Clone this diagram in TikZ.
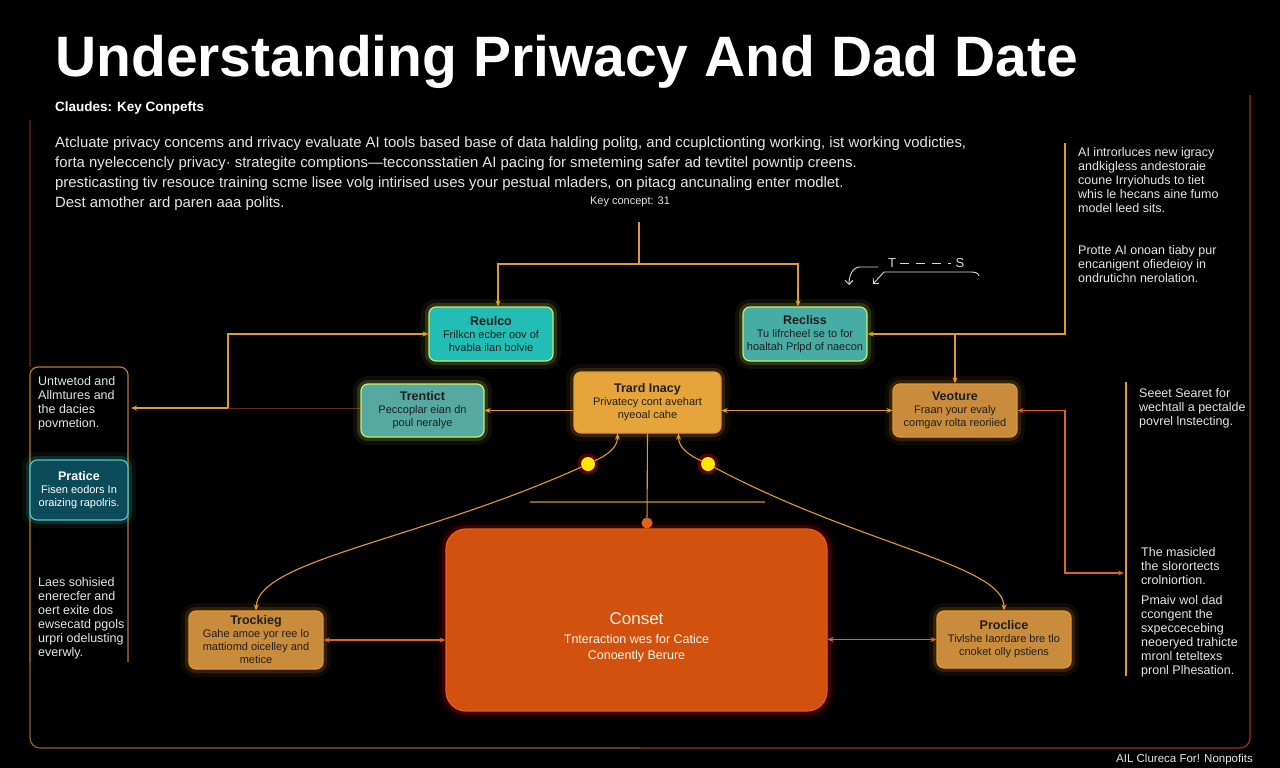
\documentclass[tikz,border=0pt]{standalone}
\usepackage{fontspec}
\setmainfont{Liberation Sans}
\usetikzlibrary{arrows.meta}
\definecolor{amber}{HTML}{E39A2C}
\definecolor{rust}{HTML}{E2621C}
\definecolor{paper}{HTML}{E6E6E6}
\definecolor{teala}{HTML}{22BDB4}
\definecolor{tealb}{HTML}{46ACA4}
\definecolor{tealc}{HTML}{55A9A1}
\definecolor{tealdeep}{HTML}{0C4B5A}
\definecolor{lime}{HTML}{C9EE6A}
\definecolor{gold}{HTML}{E6A53A}
\definecolor{ochre}{HTML}{C98B3C}
\definecolor{flame}{HTML}{D2510F}
\definecolor{framered}{HTML}{A82C22}
\definecolor{framedim}{HTML}{4A1A10}
\newcommand\boxhead[1]{{\fontsize{12.5}{15}\selectfont\bfseries #1}}
\begin{document}
\begin{tikzpicture}[x=1pt,y=-1pt,
  wire/.style={draw=amber, line width=1.1pt},
  arr/.style={wire, -{Stealth[length=6pt,width=5pt]}},
  arrs/.style={wire, {Stealth[length=6pt,width=5pt]}-{Stealth[length=6pt,width=5pt]}},
  box/.style={draw=#1, line width=1.2pt, rounded corners=7pt, align=center, inner sep=1pt,
    text=black!88, font=\fontsize{11}{13}\selectfont,
    preaction={draw=#1, line width=16pt, opacity=0.07},
    preaction={draw=#1, line width=8pt, opacity=0.16}},
  coltxt/.style={anchor=north west, align=left, inner sep=0pt, text=#1, font=\fontsize{12.5}{14}\selectfont},
  ydot/.style={circle, fill=yellow!90!orange, inner sep=0pt, minimum size=14pt,
    preaction={draw=red, line width=7pt, opacity=0.35}},
  rdot/.style={circle, fill=rust, inner sep=0pt, minimum size=11pt},
  anno/.style={draw=white!85!black, line width=0.9pt}]
\useasboundingbox (0,0) rectangle (1280,768);
\fill[black] (0,0) rectangle (1280,768);

\node[anchor=base west, inner sep=0pt, text=white, font=\fontsize{57}{60}\selectfont\bfseries] (ttl) at (55,77) {Understanding Priwacy And Dad Date};
\node[anchor=base west, inner sep=0pt, text=white, font=\fontsize{13.5}{16}\selectfont\bfseries] (sub) at (55,111) {Claudes: Key Conpefts};
\node[coltxt=paper, font=\fontsize{14.9}{20}\selectfont] (par) at (55,137) {Atcluate privacy concems and rrivacy evaluate AI tools based base of data halding politg, and ccuplctionting working, ist working vodicties,\\
forta nyeleccencly privacy· strategite comptions—tecconsstatien AI pacing for smeteming safer ad tevtitel powntip creens.\\
presticasting tiv resouce training scme lisee volg intirised uses your pestual mladers, on pitacg ancunaling enter modlet.\\
Dest amother ard paren aaa polits.};
\node[inner sep=1pt, text=paper, font=\fontsize{11}{13}\selectfont] (kc) at (630,202) {Key concept: 31};

\draw[line width=1.2pt, draw=framedim] (30,120) -- (30,367);
\draw[line width=1.2pt, draw=amber!80!black, rounded corners=8pt] (30,662) -- (30,367) -- (128,367) -- (128,662);
\draw[line width=1.2pt, draw=ochre!70!black, rounded corners=10pt] (30,662) -- (30,748) -- (640,748);
\draw[line width=1.2pt, draw=framered, rounded corners=10pt] (640,748) -- (1250,748) -- (1250,95);
\draw[wire] (1126,382) -- (1126,676);

\node[coltxt=paper] (lt1) at (38,376) {Untwetod and\\Allmtures and\\the dacies\\povmetion.};
\node[coltxt=paper] (lt2) at (38,577) {Laes sohisied\\enerecfer and\\oert exite dos\\ewsecatd pgols\\urpri odelusting\\everwly.};
\node[coltxt=paper] (rt1) at (1078,147) {AI introrluces new igracy\\andkigless andestoraie\\coune Irryiohuds to tiet\\whis le hecans aine fumo\\model leed sits.};
\node[coltxt=paper] (rt2) at (1078,245) {Protte AI onoan tiaby pur\\encanigent ofiedeioy in\\ondrutichn nerolation.};
\node[coltxt=paper] (rt3) at (1139,388) {Seeet Searet for\\wechtall a pectalde\\povrel lnstecting.};
\node[coltxt=paper] (rt4) at (1141,547) {The masicled\\the slorortects\\crolniortion.};
\node[coltxt=paper] (rt5) at (1141,595) {Pmaiv wol dad\\ccongent the\\sxpeccecebing\\neoeryed trahicte\\mronl teteltexs\\pronl Plhesation.};
\node[anchor=base east, inner sep=0pt, text=paper, font=\fontsize{11.5}{14}\selectfont] (ftr) at (1253,762) {AIL Clureca For! Nonpofits};

\node[box=lime, fill=teala, minimum width=124pt, minimum height=54pt] (box1) at (491,334) {\boxhead{Reulco}\\Frilkcn ecber oov of\\hvabla ilan bolvie};
\node[box=lime, fill=tealb, minimum width=124pt, minimum height=54pt] (box2) at (805,334) {\boxhead{Recliss}\\Tu lifrcheel se to for\\hoaltah Prlpd of naecon};
\node[box=lime, fill=tealc, minimum width=123pt, minimum height=53pt] (box3) at (422.5,410.5) {\boxhead{Trentict}\\Peccoplar eian dn\\poul neralye};
\node[box=amber, fill=gold, minimum width=147pt, minimum height=61pt] (box4) at (647.5,402.5) {\boxhead{Trard Inacy}\\Privatecy cont avehart\\nyeoal cahe};
\node[box=amber, fill=ochre, minimum width=124pt, minimum height=53pt] (box5) at (955,410.5) {\boxhead{Veoture}\\Fraan your evaly\\comgav rolta reoriied};
\node[box=teala!80!white, fill=tealdeep, text=white, minimum width=98pt, minimum height=60pt] (box6) at (79,490) {\boxhead{Pratice}\\Fisen eodors In\\oraizing rapolris.};
\node[box=amber, fill=ochre, minimum width=134pt, minimum height=58pt] (box7) at (256,640) {\boxhead{Trockieg}\\Gahe amoe yor ree lo\\mattiomd oicelley and\\metice};
\node[box=amber, fill=ochre, minimum width=134pt, minimum height=57pt] (box8) at (1004,639.5) {\boxhead{Proclice}\\Tivlshe Iaordare bre tlo\\cnoket olly pstiens};
\node[box=red, fill=flame, draw=rust, rounded corners=20pt, minimum width=381pt, minimum height=182pt] (box9) at (636.5,620) {};
\node[align=center, text=white!92!orange, font=\fontsize{12.5}{16}\selectfont] (cst) at (636.5,637) {{\fontsize{17}{20}\selectfont Conset}\\[3pt]Tnteraction wes for Catice\\Conoently Berure};

\coordinate (k1) at (639,222);
\coordinate (k2) at (639,264);
\draw[wire] (k1) -- (k2);
\draw[arr] (k2) -| ([xshift=7pt]box1.north);
\draw[arr] (k2) -| ([xshift=-7pt]box2.north);

\coordinate (c1) at (228,408);
\coordinate (lpe) at (131,408);
\draw[arr] (c1) |- (box1.west);
\draw[arr] (c1) -- (lpe);
\draw[draw=rust, line width=1pt, opacity=0.45] (c1) -- (c1 -| box3.west);

\coordinate (r1) at (1065,143);
\coordinate (r3) at (1065,573);
\coordinate (r4) at (1124,573);
\draw[arr] (r1) |- (box2.east);
\draw[arr] (box5.north |- box2.east) -- (box5.north);
\draw[arrs, draw=rust] (box5.east) -| (r3) -- (r4);
\draw[arrs] (box4.east |- box5.west) -- (box5.west);
\draw[arr] (box4.west |- box3.east) -- (box3.east);

\node[rdot] (dot0) at (647,523) {};
\draw[wire] (box4.south) -- (dot0);
\coordinate (hl1) at (530,502);
\coordinate (hl2) at (765,502);
\draw[wire, opacity=0.6] (hl1) -- (hl2);
\node[ydot] (dot1) at (588,464) {};
\node[ydot] (dot2) at (708,464) {};
\draw[arr] (dot1) to[out=25, in=-90] ([xshift=-30pt]box4.south);
\draw[arr] (dot2) to[out=155, in=-90] ([xshift=31pt]box4.south);
\draw[arr] (dot1) .. controls (420,540) and (258,560) .. (box7.north);
\draw[arr] (dot2) .. controls (860,545) and (1004,565) .. (box8.north);
\draw[arrs, draw=rust] (box7.east) -- (box7.east -| box9.west);
\draw[arrs, draw=rust] (box8.west -| box9.east) -- (box8.west);

\node[text=white!85!black, inner sep=0pt, font=\fontsize{13}{15}\selectfont] (an1) at (892,263) {T};
\node[text=white!85!black, inner sep=0pt, font=\fontsize{13}{15}\selectfont] (an2) at (960,263) {S};
\coordinate (an3) at (849,285);
\coordinate (an4) at (873,284);
\coordinate (an5) at (979,276);
\draw[anno, dash pattern=on 9pt off 7pt] ([xshift=4pt]an1.east) -- ([xshift=-4pt]an2.west);
\draw[anno, -{Straight Barb[length=4pt]}] (878,267) -- (860,267) to[out=180, in=90] (an3);
\draw[anno, -{Straight Barb[length=4pt]}] (an5) to[out=100, in=0] (970,272) -- (884,272) -- (an4);
\end{tikzpicture}
\end{document}
